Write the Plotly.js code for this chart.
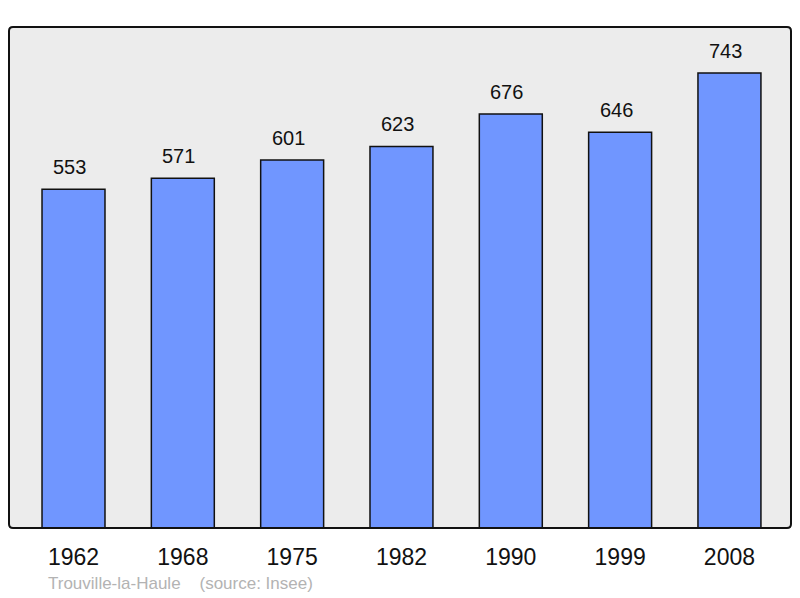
<!DOCTYPE html>
<html><head><meta charset="utf-8">
<script src="https://cdn.plot.ly/plotly-3.0.1.min.js"></script>
<style>html,body{margin:0;padding:0;background:#fff}#c{width:800px;height:598px}</style>
</head><body><div id="c"></div>
<script>
const years = ["1962","1968","1975","1982","1990","1999","2008"];
const population = [553, 571, 601, 623, 676, 646, 743];
const sourceText = "Trouville-la-Haule\u00a0\u00a0\u00a0\u00a0(source: Insee)";

const idx = years.map((_, i) => i);
const font = "Liberation Sans, Arial, sans-serif";
const L = 9, R = 9, T = 27, B = 70, W = 800, H = 598;
const pw = W - L - R, ph = H - T - B;

const trace = {
  type: "bar", x: idx, y: population, width: 0.576,
  marker: {color: "#7096ff", line: {color: "#111", width: 1.5}},
  hoverinfo: "skip"
};
const ann = population.map((v, i) => ({
  x: i, y: v, xref: "x", yref: "y", text: String(v), showarrow: false,
  yanchor: "bottom", yshift: 9, xshift: -4, font: {family: font, size: 20, color: "#111"}
}));
ann.push({x: (46 - L) / pw, y: (H - B - 583) / ph, xref: "paper", yref: "paper",
  xanchor: "left", yanchor: "middle",
  text: sourceText, showarrow: false, font: {family: font, size: 17, color: "#b3b3b3"}});

const rx = 4 / pw, ry = 4 / ph;
const borderPath = `M ${rx} 0 L ${1-rx} 0 Q 1 0 1 ${ry} L 1 ${1-ry} Q 1 1 ${1-rx} 1 L ${rx} 1 Q 0 1 0 ${1-ry} L 0 ${ry} Q 0 0 ${rx} 0 Z`;

const layout = {
  width: W, height: H, margin: {l: L, r: R, t: T, b: B},
  paper_bgcolor: "#fff", plot_bgcolor: "#ececec", showlegend: false,
  xaxis: {range: [-0.59, 6.563], tickvals: idx, ticktext: years, ticks: "", showgrid: false,
    zeroline: false, showline: false, ticklabelstandoff: 13,
    tickfont: {family: font, size: 23, color: "#111"}},
  yaxis: {range: [0, 818], showticklabels: false, showgrid: false, zeroline: false, ticks: ""},
  annotations: ann,
  shapes: [{type: "path", xref: "paper", yref: "paper", path: borderPath,
    line: {color: "#111", width: 2}}]
};
Plotly.newPlot("c", [trace], layout, {staticPlot: true, displayModeBar: false});
</script></body></html>
